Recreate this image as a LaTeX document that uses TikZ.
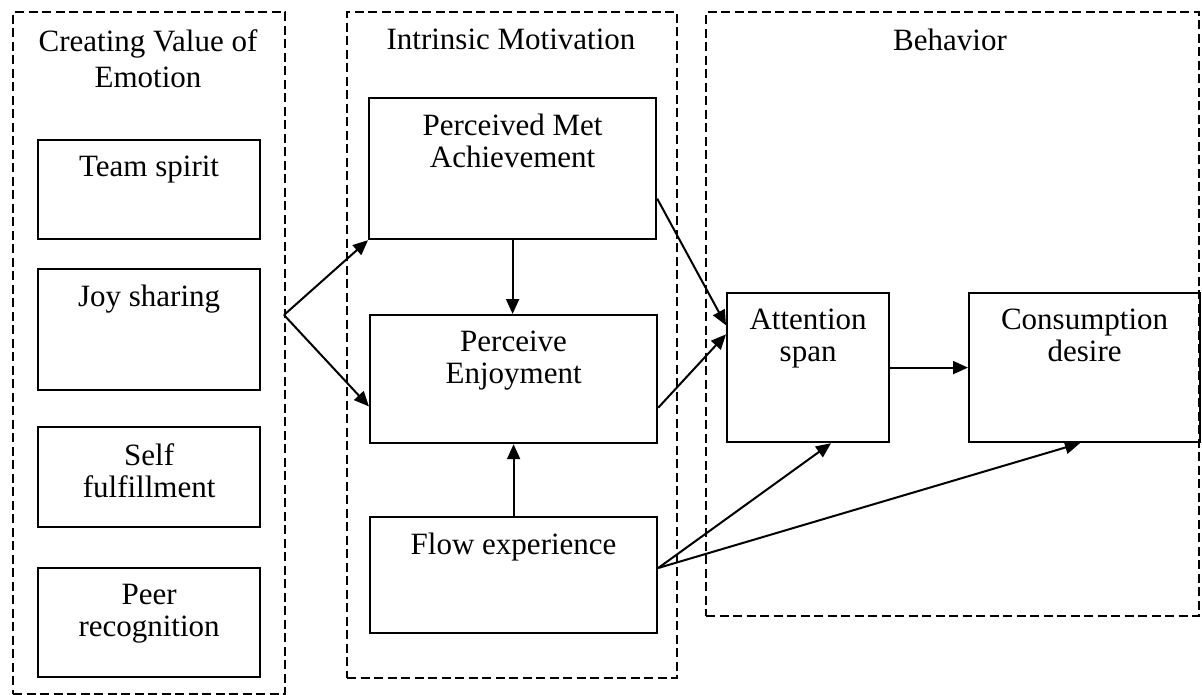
\documentclass[tikz,border=0pt]{standalone}
\usepackage{fontspec}
\setmainfont{Liberation Serif}
\usetikzlibrary{arrows.meta,calc}
\begin{document}
\begin{tikzpicture}[x=1pt,y=-1pt,
  frame/.style={draw, line width=2.2pt, dash pattern=on 9pt off 4.5pt, anchor=north west, inner sep=0pt},
  box/.style={draw, line width=2.2pt, anchor=north west, inner sep=0pt},
  lbl/.style={anchor=north, inner sep=0pt, align=center, font=\fontsize{31}{32}\selectfont, yshift=-17pt},
  ttl/.style={anchor=north, inner sep=0pt, align=center, font=\fontsize{31}{36}\selectfont},
  link/.style={line width=2pt, -{Triangle[length=15pt,width=13pt]}}
]
\useasboundingbox (0,0) rectangle (1202,695);

% group frames
\node[frame, minimum width=272pt, minimum height=682pt] (grpA) at (12,11) {};
\node[frame, minimum width=330pt, minimum height=666pt] (grpB) at (346,11) {};
\node[frame, minimum width=493pt, minimum height=604pt] (grpC) at (705,11) {};

% group titles
\node[ttl] (tA) at (148,29) {Creating Value of\\Emotion};
\node[ttl] (tB) at (511,29) {Intrinsic Motivation};
\node[ttl] (tC) at (950,29) {Behavior};

% emotion values
\node[box, minimum width=222pt, minimum height=99pt, label={[lbl]north:Team spirit}] (team) at (37,139) {};
\node[box, minimum width=222pt, minimum height=121pt, label={[lbl]north:Joy sharing}] (joy) at (37,268) {};
\node[box, minimum width=222pt, minimum height=100pt, label={[lbl]north:{Self\\fulfillment}}] (self) at (37,426) {};
\node[box, minimum width=222pt, minimum height=109pt, label={[lbl]north:{Peer\\recognition}}] (peer) at (37,567) {};

% intrinsic motivation
\node[box, minimum width=287pt, minimum height=141pt, label={[lbl]north:{Perceived Met\\Achievement}}] (pma) at (368,97) {};
\node[box, minimum width=287pt, minimum height=128pt, label={[lbl]north:{Perceive\\Enjoyment}}] (pe) at (369,314) {};
\node[box, minimum width=287pt, minimum height=116pt, label={[lbl]north:Flow experience}] (flow) at (369,516) {};

% behaviour
\node[box, minimum width=162pt, minimum height=149pt, label={[lbl]north:{Attention\\span}}] (att) at (726,292) {};
\node[box, minimum width=231pt, minimum height=149pt, label={[lbl]north:{Consumption\\desire}}] (cons) at (968,292) {};

% connectors
\coordinate (split) at (284,315);
\draw[link] (split) -- (pma.south west);
\draw[link] (split) -- ($(pe.north west)!0.71!(pe.south west)$);
\draw[link] (pma.south) -- (pma.south |- pe.north);
\draw[link] (flow.north) -- (flow.north |- pe.south);
\draw[link] ($(pma.north east)!0.71!(pma.south east)$) -- ($(att.north west)!0.22!(att.south west)$);
\draw[link] ($(pe.north east)!0.72!(pe.south east)$) -- ($(att.north west)!0.28!(att.south west)$);
\draw[link] (att.east) -- (cons.west);
\coordinate (fout) at ($(flow.north east)!0.44!(flow.south east)$);
\draw[link] (fout) -- ($(att.south west)!0.64!(att.south east)$);
\draw[link] (fout) -- ($(cons.south west)!0.48!(cons.south east)$);
\end{tikzpicture}
\end{document}
